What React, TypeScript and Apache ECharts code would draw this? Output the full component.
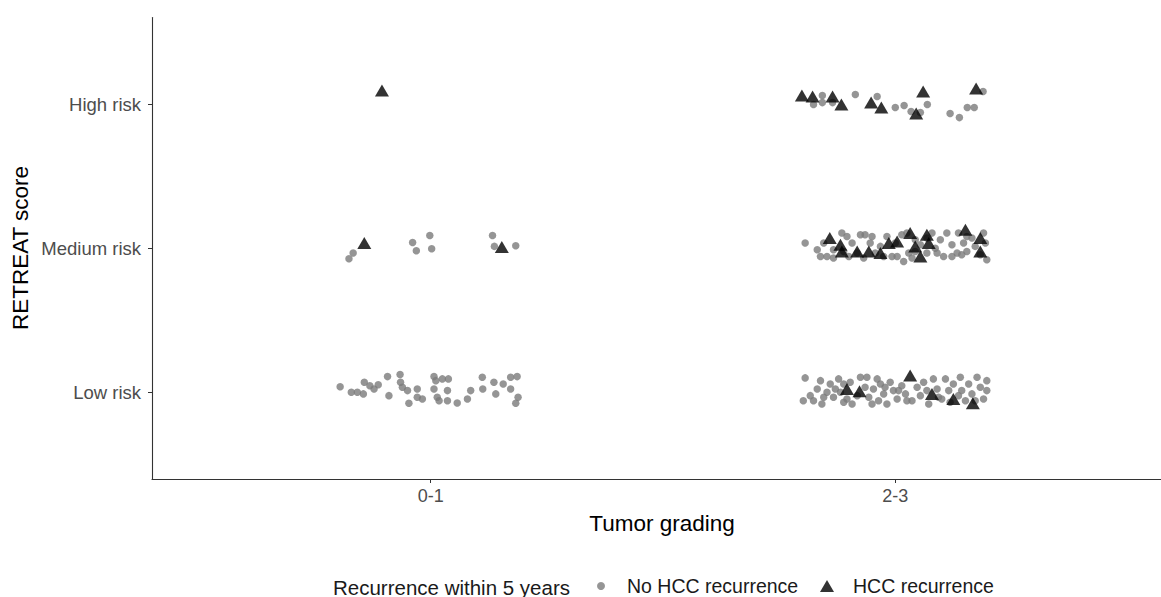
import React, { useEffect, useRef } from "react";
import * as echarts from "echarts";

const xCategories = ["0-1", "2-3"];
const yCategories = ["Low risk", "Medium risk", "High risk"];

// No HCC recurrence (jittered positions: x = grading index, y = score index)
const noRecLow01: number[][] = [
  [0.805, 1.04], [0.829, 1.001], [0.842, 1.001], [0.855, 0.99], [0.857, 1.071], [0.869, 1.047],
  [0.878, 1.024], [0.887, 1.054], [0.907, 1.11], [0.91, 0.978], [0.934, 1.124], [0.935, 1.071],
  [0.939, 1.036], [0.95, 1.013], [0.953, 0.925], [0.971, 1.024], [0.971, 0.967], [0.982, 0.955],
  [1.007, 1.11], [1.011, 1.082], [1.007, 1.024], [1.014, 0.967], [1.025, 1.094], [1.036, 1.013],
  [1.038, 1.094], [1.018, 0.943], [1.036, 0.943], [1.057, 0.927], [1.079, 0.955], [1.086, 1.013],
  [1.111, 1.106], [1.112, 1.024], [1.136, 1.071], [1.14, 0.99], [1.156, 1.059], [1.172, 1.106],
  [1.186, 1.11], [1.172, 1.024], [1.188, 0.967], [1.183, 0.925],
];
const noRecMed01: number[][] = [
  [0.824, 1.927], [0.833, 1.967], [0.961, 2.04], [0.969, 1.983], [0.998, 2.089], [1.002, 1.997],
  [1.133, 2.089], [1.137, 2.013], [1.183, 2.017],
];
const noRecLow23: number[][] = [
  [1.806, 1.101], [1.802, 0.943], [1.817, 0.978], [1.832, 1.024], [1.839, 1.082], [1.842, 0.92],
  [1.853, 1.001], [1.86, 1.059], [1.867, 0.967], [1.878, 1.094], [1.882, 1.001], [1.889, 0.932],
  [1.903, 1.071], [1.907, 0.92], [1.925, 1.106], [1.939, 1.106], [1.943, 0.967], [1.953, 1.024],
  [1.964, 0.943], [1.968, 1.059], [1.975, 0.99], [1.982, 0.92], [1.989, 1.071], [1.996, 1.013],
  [2.004, 0.955], [2.014, 1.047], [2.022, 0.99], [2.036, 0.943], [2.047, 1.036], [2.054, 0.978],
  [2.061, 1.071], [2.072, 0.92], [2.082, 1.094], [2.09, 1.024], [2.1, 0.955], [2.108, 1.094],
  [2.115, 1.013], [2.125, 1.059], [2.14, 1.106], [2.143, 1.013], [2.151, 0.943], [2.158, 1.059],
  [2.165, 0.99], [2.176, 1.106], [2.183, 1.036], [2.19, 0.955], [2.197, 1.082], [2.197, 1.013],
  [1.824, 0.943], [1.846, 0.967], [1.871, 1.024], [1.896, 0.955], [1.918, 0.978], [1.935, 1.036],
  [1.961, 1.094], [1.978, 1.036], [2.007, 1.013], [2.025, 0.943], [2.068, 1.013], [2.093, 0.967],
  [2.118, 0.932], [2.136, 0.978], [2.172, 0.943], [1.889, 1.059], [1.95, 0.92],
];
const noRecMed23: number[][] = [
  [1.806, 2.036], [1.832, 1.99], [1.839, 1.943], [1.853, 1.943], [1.867, 1.932], [1.885, 2.106],
  [1.896, 2.082], [1.9, 1.943], [1.907, 2.036], [1.925, 2.094], [1.935, 2.094], [1.946, 2.036],
  [1.957, 1.967], [1.968, 2.013], [1.982, 2.082], [1.993, 1.943], [2.004, 1.943], [2.014, 2.094],
  [2.018, 1.908], [2.025, 2.106], [2.029, 1.967], [2.043, 2.059], [2.054, 2.024], [2.068, 1.967],
  [2.079, 2.106], [2.086, 2.0], [2.097, 2.059], [2.104, 1.943], [2.111, 2.106], [2.122, 2.024],
  [2.133, 1.967], [2.136, 2.106], [2.147, 2.036], [2.154, 1.978], [2.165, 2.071], [2.172, 2.013],
  [2.183, 1.955], [2.19, 2.106], [2.194, 2.036], [2.197, 1.92], [1.846, 2.036], [1.918, 1.967],
  [1.932, 1.932], [1.975, 1.943], [2.036, 1.932], [2.09, 1.967], [2.122, 1.943], [2.143, 1.955],
  [2.043, 1.978], [1.95, 2.082], [2.0, 2.036], [2.068, 2.071], [2.154, 2.082], [1.889, 1.978],
  [1.867, 1.99],
];
const noRecHigh23: number[][] = [
  [1.824, 2.997], [1.843, 3.059], [1.843, 3.01], [1.865, 3.01], [1.914, 3.066], [1.961, 3.052],
  [2.0, 2.976], [2.019, 2.99], [2.034, 2.948], [2.054, 2.941], [2.069, 2.997], [2.118, 2.934],
  [2.138, 2.906], [2.155, 2.976], [2.17, 2.976], [2.189, 3.087],
];

// HCC recurrence
const hccMed01: number[][] = [[0.857, 2.036], [1.153, 2.008]];
const hccHigh01: number[][] = [[0.895, 3.094]];
const hccLow23: number[][] = [
  [1.896, 1.024], [1.923, 1.008], [2.032, 1.117], [2.079, 0.99], [2.125, 0.955], [2.167, 0.925],
];
const hccMed23: number[][] = [
  [1.859, 2.071], [1.882, 2.024], [1.885, 1.978], [1.918, 1.978], [1.943, 1.978], [1.968, 1.967],
  [1.986, 2.036], [2.004, 2.047], [2.032, 2.106], [2.043, 2.013], [2.054, 1.943], [2.068, 2.094],
  [2.072, 2.036], [2.151, 2.128], [2.183, 2.071], [2.183, 1.978],
];
const hccHigh23: number[][] = [
  [1.799, 3.059], [1.822, 3.052], [1.865, 3.052], [1.884, 2.997], [1.948, 3.01], [1.97, 2.976],
  [2.06, 3.087], [2.045, 2.934], [2.174, 3.108],
];

const noRecurrence = [...noRecLow01, ...noRecMed01, ...noRecLow23, ...noRecMed23, ...noRecHigh23];
const hccRecurrence = [...hccMed01, ...hccHigh01, ...hccLow23, ...hccMed23, ...hccHigh23];

const FONT = "'Liberation Sans', Arial, sans-serif";

export default function App() {
  const ref = useRef<HTMLDivElement>(null);
  useEffect(() => {
    if (!ref.current) return;
    const chart = echarts.init(ref.current, null, { renderer: "svg" });
    chart.setOption({
      animation: false,
      backgroundColor: "#ffffff",
      textStyle: { fontFamily: FONT },
      grid: { left: 152, right: 0, top: 17.5, bottom: 118, containLabel: false },
      xAxis: {
        type: "value",
        min: 0.4,
        max: 2.572,
        splitLine: { show: false },
        axisLine: { onZero: false, lineStyle: { color: "#333333", width: 1.1 } },
        axisTick: { customValues: [1, 2], length: 4, lineStyle: { color: "#333333" } },
        axisLabel: {
          customValues: [1, 2],
          formatter: (v: number) => xCategories[Math.round(v) - 1] ?? "",
          color: "#4d4d4d",
          fontSize: 18,
          fontFamily: FONT,
          margin: 8,
        },
      },
      yAxis: {
        type: "value",
        min: 0.4,
        max: 3.6,
        splitLine: { show: false },
        axisLine: { onZero: false, lineStyle: { color: "#333333", width: 1.1 } },
        axisTick: { customValues: [1, 2, 3], length: 4, lineStyle: { color: "#333333" } },
        axisLabel: {
          customValues: [1, 2, 3],
          formatter: (v: number) => yCategories[Math.round(v) - 1] ?? "",
          color: "#4d4d4d",
          fontSize: 18.5,
          fontFamily: FONT,
          margin: 11,
        },
      },
      legend: [
        {
          data: ["No HCC recurrence"],
          left: 597,
          top: 576,
          padding: 0,
          icon: "circle",
          itemWidth: 8,
          itemHeight: 8,
          textStyle: { fontSize: 19.5, color: "#1a1a1a", fontFamily: FONT, padding: [0, 0, 0, 17] },
          selectedMode: false,
        },
        {
          data: ["HCC recurrence"],
          left: 820,
          top: 576,
          padding: 0,
          icon: "triangle",
          itemWidth: 14,
          itemHeight: 12,
          textStyle: { fontSize: 19.5, color: "#1a1a1a", fontFamily: FONT, padding: [0, 0, 0, 14] },
          selectedMode: false,
        },
      ],
      graphic: [
        {
          type: "text",
          x: 333,
          y: 587,
          style: {
            text: "Recurrence within 5 years",
            fontSize: 20.5,
            fill: "#1a1a1a",
            fontFamily: FONT,
            verticalAlign: "middle",
          },
        },
        {
          type: "text",
          x: 662,
          y: 523,
          style: {
            text: "Tumor grading",
            fontSize: 22.5,
            fill: "#000000",
            fontFamily: FONT,
            align: "center",
            verticalAlign: "middle",
          },
        },
        {
          type: "text",
          x: 20,
          y: 248,
          rotation: Math.PI / 2,
          style: {
            text: "RETREAT score",
            fontSize: 22.5,
            fill: "#000000",
            fontFamily: FONT,
            align: "center",
            verticalAlign: "middle",
          },
        },
      ],
      series: [
        {
          name: "No HCC recurrence",
          type: "scatter",
          data: noRecurrence,
          symbol: "circle",
          symbolSize: 7.5,
          itemStyle: { color: "#7a7a7a", opacity: 0.8 },
        },
        {
          name: "HCC recurrence",
          type: "scatter",
          data: hccRecurrence,
          symbol: "triangle",
          symbolSize: [14, 12],
          itemStyle: { color: "#000000", opacity: 0.8 },
        },
      ],
    });
    return () => chart.dispose();
  }, []);
  return (
    <div
      ref={ref}
      style={{ position: "fixed", left: 0, top: 0, width: 1161, height: 597, background: "#fff" }}
    />
  );
}
